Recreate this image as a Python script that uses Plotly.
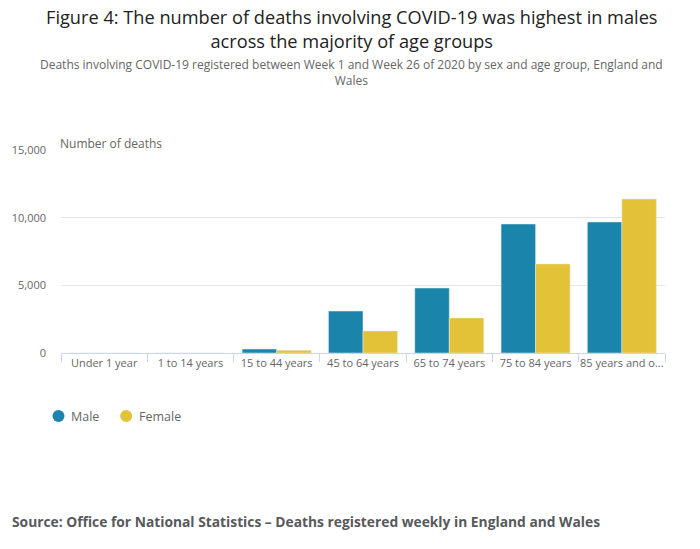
import plotly.graph_objects as go

categories = ["Under 1 year", "1 to 14 years", "15 to 44 years", "45 to 64 years",
              "65 to 74 years", "75 to 84 years", "85 years and over"]
tick_labels = ["Under 1 year", "1 to 14 years", "15 to 44 years", "45 to 64 years",
               "65 to 74 years", "75 to 84 years", "85 years and o..."]
male = [3, 6, 290, 3100, 4800, 9530, 9680]
female = [2, 4, 200, 1630, 2590, 6580, 11380]
y_ticks = [0, 5000, 10000, 15000]

MALE_C = "#1a84ab"
FEMALE_C = "#e3c237"
FONT = "Open Sans"

fig = go.Figure()
fig.add_bar(x=categories, y=male, name="Male", marker_color=MALE_C, showlegend=False)
fig.add_bar(x=categories, y=female, name="Female", marker_color=FEMALE_C, showlegend=False)

W, H = 700, 549
L, R = 58, 700 - 665
T, B = 150, 549 - 353
pw, ph = W - L - R, H - T - B

def px(x):
    return (x - L) / pw

def py(y):
    return (H - B - y) / ph

fig.update_layout(
    width=W, height=H,
    margin=dict(l=L, r=R, t=T, b=B),
    paper_bgcolor="white", plot_bgcolor="white",
    barmode="group", bargap=0.2, bargroupgap=0,
    font=dict(family=FONT, color="#666666", size=11),
    showlegend=False,
    xaxis=dict(
        tickmode="array", tickvals=categories, ticktext=tick_labels,
        tickangle=0,
        showline=True, linecolor="#ccd6eb", linewidth=1,
        ticks="outside", tickson="boundaries", ticklen=8, tickcolor="#ccd6eb",
        tickfont=dict(size=11, color="#666666"),
        showgrid=False,
    ),
    yaxis=dict(
        range=[0, 15000], tickvals=y_ticks, tickformat=",",
        showgrid=True, gridcolor="#e6e6e6", gridwidth=1,
        zeroline=False, showline=False,
        tickfont=dict(size=11, color="#666666"),
        ticklabelstandoff=14,
    ),
)

ann = []
ann.append(dict(text="Figure 4: The number of deaths involving COVID-19 was highest in males<br>across the majority of age groups",
                x=px(350), y=py(29), xref="paper", yref="paper", xanchor="center", yanchor="middle",
                showarrow=False, font=dict(size=18.2, color="#222222", family=FONT)))
ann.append(dict(text="Deaths involving COVID-19 registered between Week 1 and Week 26 of 2020 by sex and age group, England and<br>Wales",
                x=px(350), y=py(72.5), xref="paper", yref="paper", xanchor="center", yanchor="middle",
                showarrow=False, font=dict(size=12, color="#666666", family=FONT)))
ann.append(dict(text="Number of deaths", x=px(55), y=py(143), xref="paper", yref="paper",
                xanchor="left", yanchor="middle", showarrow=False,
                font=dict(size=12, color="#666666", family=FONT)))
ann.append(dict(text="Male", x=px(66), y=py(416), xref="paper", yref="paper",
                xanchor="left", yanchor="middle", showarrow=False,
                font=dict(size=12.5, color="#666666", family=FONT)))
ann.append(dict(text="Female", x=px(134), y=py(416), xref="paper", yref="paper",
                xanchor="left", yanchor="middle", showarrow=False,
                font=dict(size=12.5, color="#666666", family=FONT)))
ann.append(dict(text="<b>Source: Office for National Statistics – Deaths registered weekly in England and Wales</b>",
                x=px(7), y=py(521), xref="paper", yref="paper",
                xanchor="left", yanchor="middle", showarrow=False,
                font=dict(size=13.8, color="#58595b", family=FONT)))
fig.update_layout(annotations=ann)

shapes = []
for cx, col in [(55.5, MALE_C), (123.5, FEMALE_C)]:
    shapes.append(dict(type="circle", xref="paper", yref="paper",
                       xsizemode="pixel", ysizemode="pixel",
                       xanchor=px(cx), yanchor=py(416),
                       x0=-6, x1=6, y0=-6, y1=6,
                       fillcolor=col, line=dict(width=0)))
fig.update_layout(shapes=shapes)

fig.write_html("out.html",
               config={"displayModeBar": False},
               post_script="document.body.style.margin='0';document.body.style.overflow='hidden';")
